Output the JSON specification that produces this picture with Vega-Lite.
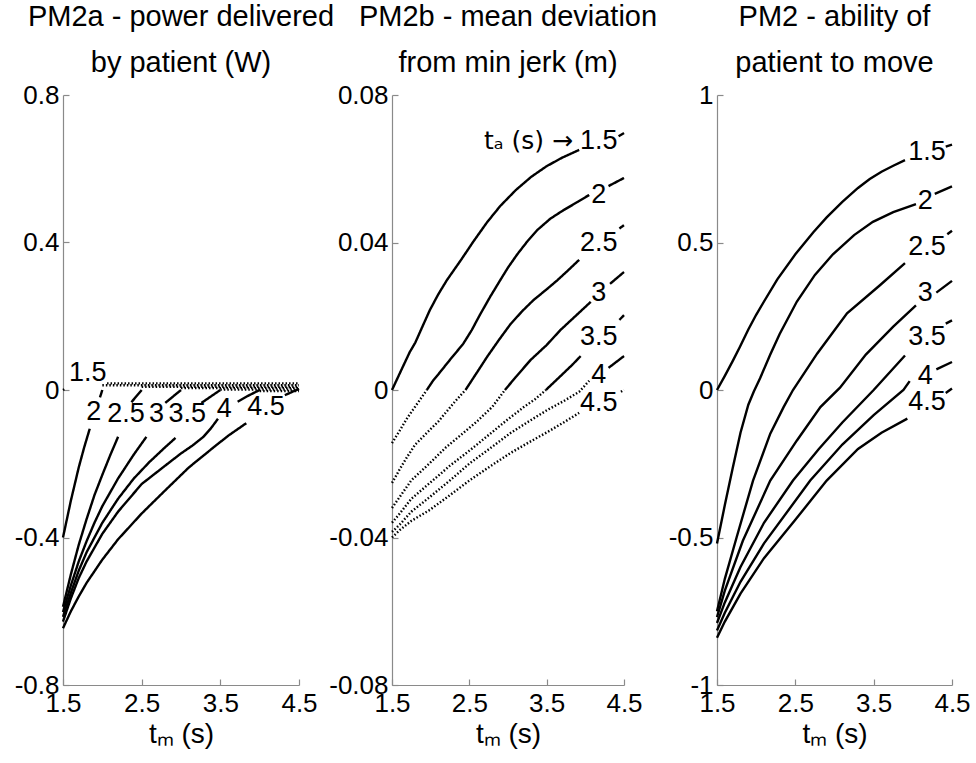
{
  "$schema": "https://vega.github.io/schema/vega-lite/v6.json",
  "background": "white",
  "padding": {"left": 14, "top": 3, "right": 5, "bottom": 5},
  "bounds": "flush",
  "spacing": 93,
  "resolve": {"scale": {"strokeDash": "independent", "x": "independent", "y": "independent"}},
  "config": {
    "font": "Liberation Sans",
    "view": {"stroke": null},
    "axis": {
      "grid": false,
      "domainColor": "#8a8a8a",
      "domainWidth": 1.2,
      "tickColor": "#8a8a8a",
      "tickWidth": 1.2,
      "tickSize": -6,
      "labelFontSize": 26,
      "labelColor": "black",
      "labelFont": "Liberation Sans",
      "labelFlush": false,
      "labelOverlap": false,
      "titleFontSize": 28,
      "titleFontWeight": "normal",
      "titleColor": "black",
      "titleFont": "Liberation Sans"
    },
    "axisX": {"labelPadding": 11},
    "axisY": {"labelPadding": 10},
    "title": {
      "font": "Liberation Sans",
      "fontSize": 29,
      "fontWeight": "normal",
      "color": "black",
      "anchor": "middle",
      "lineHeight": 46,
      "offset": 0
    },
    "text": {"font": "Liberation Sans"}
  },
  "datasets": {
    "pm2a": [
      {"ta": "1.5", "seg": "1.5-a", "phase": "tm > ta", "tm": 1.5, "v": 0.0},
      {"ta": "1.5", "seg": "1.5-a", "phase": "tm > ta", "tm": 1.53, "v": 0.004},
      {"ta": "1.5", "seg": "1.5-b", "phase": "tm > ta", "tm": 2.06, "v": 0.018},
      {"ta": "1.5", "seg": "1.5-b", "phase": "tm > ta", "tm": 4.5, "v": 0.018},

      {"ta": "2", "seg": "2-a", "phase": "tm < ta", "tm": 1.5, "v": -0.40},
      {"ta": "2", "seg": "2-a", "phase": "tm < ta", "tm": 1.6, "v": -0.30},
      {"ta": "2", "seg": "2-a", "phase": "tm < ta", "tm": 1.7, "v": -0.21},
      {"ta": "2", "seg": "2-a", "phase": "tm < ta", "tm": 1.77, "v": -0.155},
      {"ta": "2", "seg": "2-a", "phase": "tm < ta", "tm": 1.84, "v": -0.105},
      {"ta": "2", "seg": "2-b", "phase": "tm < ta", "tm": 1.97, "v": -0.02},
      {"ta": "2", "seg": "2-b", "phase": "tm < ta", "tm": 2.0, "v": 0.0},
      {"ta": "2", "seg": "2-c", "phase": "tm > ta", "tm": 2.0, "v": 0.013},
      {"ta": "2", "seg": "2-c", "phase": "tm > ta", "tm": 4.5, "v": 0.013},

      {"ta": "2.5", "seg": "2.5-a", "phase": "tm < ta", "tm": 1.5, "v": -0.588},
      {"ta": "2.5", "seg": "2.5-a", "phase": "tm < ta", "tm": 1.6, "v": -0.50},
      {"ta": "2.5", "seg": "2.5-a", "phase": "tm < ta", "tm": 1.7, "v": -0.42},
      {"ta": "2.5", "seg": "2.5-a", "phase": "tm < ta", "tm": 1.8, "v": -0.35},
      {"ta": "2.5", "seg": "2.5-a", "phase": "tm < ta", "tm": 1.9, "v": -0.285},
      {"ta": "2.5", "seg": "2.5-a", "phase": "tm < ta", "tm": 2.0, "v": -0.23},
      {"ta": "2.5", "seg": "2.5-a", "phase": "tm < ta", "tm": 2.1, "v": -0.177},
      {"ta": "2.5", "seg": "2.5-a", "phase": "tm < ta", "tm": 2.2, "v": -0.127},
      {"ta": "2.5", "seg": "2.5-b", "phase": "tm < ta", "tm": 2.37, "v": -0.033},
      {"ta": "2.5", "seg": "2.5-b", "phase": "tm < ta", "tm": 2.5, "v": 0.0},
      {"ta": "2.5", "seg": "2.5-c", "phase": "tm > ta", "tm": 2.5, "v": 0.009},
      {"ta": "2.5", "seg": "2.5-c", "phase": "tm > ta", "tm": 4.5, "v": 0.009},

      {"ta": "3", "seg": "3-a", "phase": "tm < ta", "tm": 1.5, "v": -0.602},
      {"ta": "3", "seg": "3-a", "phase": "tm < ta", "tm": 1.6, "v": -0.53},
      {"ta": "3", "seg": "3-a", "phase": "tm < ta", "tm": 1.7, "v": -0.465},
      {"ta": "3", "seg": "3-a", "phase": "tm < ta", "tm": 1.8, "v": -0.41},
      {"ta": "3", "seg": "3-a", "phase": "tm < ta", "tm": 1.9, "v": -0.36},
      {"ta": "3", "seg": "3-a", "phase": "tm < ta", "tm": 2.0, "v": -0.315},
      {"ta": "3", "seg": "3-a", "phase": "tm < ta", "tm": 2.2, "v": -0.24},
      {"ta": "3", "seg": "3-a", "phase": "tm < ta", "tm": 2.4, "v": -0.175},
      {"ta": "3", "seg": "3-a", "phase": "tm < ta", "tm": 2.56, "v": -0.127},
      {"ta": "3", "seg": "3-b", "phase": "tm < ta", "tm": 2.8, "v": -0.035},
      {"ta": "3", "seg": "3-b", "phase": "tm < ta", "tm": 3.0, "v": 0.0},
      {"ta": "3", "seg": "3-c", "phase": "tm > ta", "tm": 3.0, "v": 0.005},
      {"ta": "3", "seg": "3-c", "phase": "tm > ta", "tm": 4.5, "v": 0.005},

      {"ta": "3.5", "seg": "3.5-a", "phase": "tm < ta", "tm": 1.5, "v": -0.615},
      {"ta": "3.5", "seg": "3.5-a", "phase": "tm < ta", "tm": 1.6, "v": -0.55},
      {"ta": "3.5", "seg": "3.5-a", "phase": "tm < ta", "tm": 1.7, "v": -0.49},
      {"ta": "3.5", "seg": "3.5-a", "phase": "tm < ta", "tm": 1.8, "v": -0.44},
      {"ta": "3.5", "seg": "3.5-a", "phase": "tm < ta", "tm": 2.0, "v": -0.36},
      {"ta": "3.5", "seg": "3.5-a", "phase": "tm < ta", "tm": 2.2, "v": -0.295},
      {"ta": "3.5", "seg": "3.5-a", "phase": "tm < ta", "tm": 2.4, "v": -0.24},
      {"ta": "3.5", "seg": "3.5-a", "phase": "tm < ta", "tm": 2.6, "v": -0.195},
      {"ta": "3.5", "seg": "3.5-a", "phase": "tm < ta", "tm": 2.8, "v": -0.155},
      {"ta": "3.5", "seg": "3.5-a", "phase": "tm < ta", "tm": 2.93, "v": -0.13},
      {"ta": "3.5", "seg": "3.5-b", "phase": "tm < ta", "tm": 3.26, "v": -0.035},
      {"ta": "3.5", "seg": "3.5-b", "phase": "tm < ta", "tm": 3.5, "v": 0.0},
      {"ta": "3.5", "seg": "3.5-c", "phase": "tm > ta", "tm": 3.5, "v": 0.001},
      {"ta": "3.5", "seg": "3.5-c", "phase": "tm > ta", "tm": 4.5, "v": 0.001},

      {"ta": "4", "seg": "4-a", "phase": "tm < ta", "tm": 1.5, "v": -0.628},
      {"ta": "4", "seg": "4-a", "phase": "tm < ta", "tm": 1.6, "v": -0.565},
      {"ta": "4", "seg": "4-a", "phase": "tm < ta", "tm": 1.7, "v": -0.51},
      {"ta": "4", "seg": "4-a", "phase": "tm < ta", "tm": 1.8, "v": -0.465},
      {"ta": "4", "seg": "4-a", "phase": "tm < ta", "tm": 2.0, "v": -0.39},
      {"ta": "4", "seg": "4-a", "phase": "tm < ta", "tm": 2.2, "v": -0.33},
      {"ta": "4", "seg": "4-a", "phase": "tm < ta", "tm": 2.5, "v": -0.255},
      {"ta": "4", "seg": "4-a", "phase": "tm < ta", "tm": 2.8, "v": -0.205},
      {"ta": "4", "seg": "4-a", "phase": "tm < ta", "tm": 3.0, "v": -0.172},
      {"ta": "4", "seg": "4-a", "phase": "tm < ta", "tm": 3.15, "v": -0.15},
      {"ta": "4", "seg": "4-a", "phase": "tm < ta", "tm": 3.28, "v": -0.128},
      {"ta": "4", "seg": "4-a", "phase": "tm < ta", "tm": 3.38, "v": -0.104},
      {"ta": "4", "seg": "4-a", "phase": "tm < ta", "tm": 3.47, "v": -0.078},
      {"ta": "4", "seg": "4-b", "phase": "tm < ta", "tm": 3.72, "v": -0.032},
      {"ta": "4", "seg": "4-b", "phase": "tm < ta", "tm": 3.85, "v": -0.016},
      {"ta": "4", "seg": "4-b", "phase": "tm < ta", "tm": 4.0, "v": 0.0},
      {"ta": "4", "seg": "4-c", "phase": "tm > ta", "tm": 4.0, "v": -0.003},
      {"ta": "4", "seg": "4-c", "phase": "tm > ta", "tm": 4.5, "v": -0.003},

      {"ta": "4.5", "seg": "4.5-a", "phase": "tm < ta", "tm": 1.5, "v": -0.646},
      {"ta": "4.5", "seg": "4.5-a", "phase": "tm < ta", "tm": 1.6, "v": -0.6},
      {"ta": "4.5", "seg": "4.5-a", "phase": "tm < ta", "tm": 1.7, "v": -0.56},
      {"ta": "4.5", "seg": "4.5-a", "phase": "tm < ta", "tm": 1.8, "v": -0.523},
      {"ta": "4.5", "seg": "4.5-a", "phase": "tm < ta", "tm": 2.0, "v": -0.46},
      {"ta": "4.5", "seg": "4.5-a", "phase": "tm < ta", "tm": 2.2, "v": -0.405},
      {"ta": "4.5", "seg": "4.5-a", "phase": "tm < ta", "tm": 2.5, "v": -0.335},
      {"ta": "4.5", "seg": "4.5-a", "phase": "tm < ta", "tm": 2.8, "v": -0.272},
      {"ta": "4.5", "seg": "4.5-a", "phase": "tm < ta", "tm": 3.1, "v": -0.21},
      {"ta": "4.5", "seg": "4.5-a", "phase": "tm < ta", "tm": 3.4, "v": -0.158},
      {"ta": "4.5", "seg": "4.5-a", "phase": "tm < ta", "tm": 3.6, "v": -0.124},
      {"ta": "4.5", "seg": "4.5-a", "phase": "tm < ta", "tm": 3.83, "v": -0.09},
      {"ta": "4.5", "seg": "4.5-b", "phase": "tm < ta", "tm": 4.32, "v": -0.014},
      {"ta": "4.5", "seg": "4.5-b", "phase": "tm < ta", "tm": 4.5, "v": 0.003}
    ],
    "pm2b": [
      {"ta": "1.5", "seg": "1.5-a", "phase": "tm > ta", "tm": 1.5, "v": 0.0},
      {"ta": "1.5", "seg": "1.5-a", "phase": "tm > ta", "tm": 1.6, "v": 0.0045},
      {"ta": "1.5", "seg": "1.5-a", "phase": "tm > ta", "tm": 1.73, "v": 0.0103},
      {"ta": "1.5", "seg": "1.5-a", "phase": "tm > ta", "tm": 1.8, "v": 0.0128},
      {"ta": "1.5", "seg": "1.5-a", "phase": "tm > ta", "tm": 1.9, "v": 0.0175},
      {"ta": "1.5", "seg": "1.5-a", "phase": "tm > ta", "tm": 1.99, "v": 0.0217},
      {"ta": "1.5", "seg": "1.5-a", "phase": "tm > ta", "tm": 2.1, "v": 0.026},
      {"ta": "1.5", "seg": "1.5-a", "phase": "tm > ta", "tm": 2.21, "v": 0.0298},
      {"ta": "1.5", "seg": "1.5-a", "phase": "tm > ta", "tm": 2.4, "v": 0.0355},
      {"ta": "1.5", "seg": "1.5-a", "phase": "tm > ta", "tm": 2.55, "v": 0.0402},
      {"ta": "1.5", "seg": "1.5-a", "phase": "tm > ta", "tm": 2.73, "v": 0.0455},
      {"ta": "1.5", "seg": "1.5-a", "phase": "tm > ta", "tm": 2.9, "v": 0.0499},
      {"ta": "1.5", "seg": "1.5-a", "phase": "tm > ta", "tm": 3.1, "v": 0.0542},
      {"ta": "1.5", "seg": "1.5-a", "phase": "tm > ta", "tm": 3.3, "v": 0.0578},
      {"ta": "1.5", "seg": "1.5-a", "phase": "tm > ta", "tm": 3.5, "v": 0.0607},
      {"ta": "1.5", "seg": "1.5-a", "phase": "tm > ta", "tm": 3.7, "v": 0.063},
      {"ta": "1.5", "seg": "1.5-a", "phase": "tm > ta", "tm": 3.92, "v": 0.0651},
      {"ta": "1.5", "seg": "1.5-b", "phase": "tm > ta", "tm": 4.43, "v": 0.0688},
      {"ta": "1.5", "seg": "1.5-b", "phase": "tm > ta", "tm": 4.5, "v": 0.0697},

      {"ta": "2", "seg": "2-d", "phase": "tm < ta", "tm": 1.5, "v": -0.0144},
      {"ta": "2", "seg": "2-d", "phase": "tm < ta", "tm": 1.6, "v": -0.011},
      {"ta": "2", "seg": "2-d", "phase": "tm < ta", "tm": 1.7, "v": -0.0075},
      {"ta": "2", "seg": "2-d", "phase": "tm < ta", "tm": 1.77, "v": -0.0054},
      {"ta": "2", "seg": "2-d", "phase": "tm < ta", "tm": 1.85, "v": -0.003},
      {"ta": "2", "seg": "2-d", "phase": "tm < ta", "tm": 1.95, "v": 0.0},
      {"ta": "2", "seg": "2-a", "phase": "tm > ta", "tm": 1.95, "v": 0.0},
      {"ta": "2", "seg": "2-a", "phase": "tm > ta", "tm": 2.03, "v": 0.0025},
      {"ta": "2", "seg": "2-a", "phase": "tm > ta", "tm": 2.12, "v": 0.0048},
      {"ta": "2", "seg": "2-a", "phase": "tm > ta", "tm": 2.25, "v": 0.0082},
      {"ta": "2", "seg": "2-a", "phase": "tm > ta", "tm": 2.42, "v": 0.0125},
      {"ta": "2", "seg": "2-a", "phase": "tm > ta", "tm": 2.53, "v": 0.0162},
      {"ta": "2", "seg": "2-a", "phase": "tm > ta", "tm": 2.64, "v": 0.0205},
      {"ta": "2", "seg": "2-a", "phase": "tm > ta", "tm": 2.77, "v": 0.0253},
      {"ta": "2", "seg": "2-a", "phase": "tm > ta", "tm": 2.9, "v": 0.0298},
      {"ta": "2", "seg": "2-a", "phase": "tm > ta", "tm": 3.0, "v": 0.0332},
      {"ta": "2", "seg": "2-a", "phase": "tm > ta", "tm": 3.12, "v": 0.0368},
      {"ta": "2", "seg": "2-a", "phase": "tm > ta", "tm": 3.25, "v": 0.0403},
      {"ta": "2", "seg": "2-a", "phase": "tm > ta", "tm": 3.38, "v": 0.0434},
      {"ta": "2", "seg": "2-a", "phase": "tm > ta", "tm": 3.55, "v": 0.0465},
      {"ta": "2", "seg": "2-a", "phase": "tm > ta", "tm": 3.72, "v": 0.0488},
      {"ta": "2", "seg": "2-a", "phase": "tm > ta", "tm": 3.9, "v": 0.051},
      {"ta": "2", "seg": "2-a", "phase": "tm > ta", "tm": 4.05, "v": 0.0529},
      {"ta": "2", "seg": "2-b", "phase": "tm > ta", "tm": 4.3, "v": 0.0553},
      {"ta": "2", "seg": "2-b", "phase": "tm > ta", "tm": 4.5, "v": 0.0575},

      {"ta": "2.5", "seg": "2.5-d", "phase": "tm < ta", "tm": 1.5, "v": -0.0252},
      {"ta": "2.5", "seg": "2.5-d", "phase": "tm < ta", "tm": 1.6, "v": -0.0215},
      {"ta": "2.5", "seg": "2.5-d", "phase": "tm < ta", "tm": 1.7, "v": -0.018},
      {"ta": "2.5", "seg": "2.5-d", "phase": "tm < ta", "tm": 1.8, "v": -0.0148},
      {"ta": "2.5", "seg": "2.5-d", "phase": "tm < ta", "tm": 1.99, "v": -0.0108},
      {"ta": "2.5", "seg": "2.5-d", "phase": "tm < ta", "tm": 2.1, "v": -0.0085},
      {"ta": "2.5", "seg": "2.5-d", "phase": "tm < ta", "tm": 2.2, "v": -0.006},
      {"ta": "2.5", "seg": "2.5-d", "phase": "tm < ta", "tm": 2.32, "v": -0.003},
      {"ta": "2.5", "seg": "2.5-d", "phase": "tm < ta", "tm": 2.45, "v": 0.0},
      {"ta": "2.5", "seg": "2.5-a", "phase": "tm > ta", "tm": 2.45, "v": 0.0},
      {"ta": "2.5", "seg": "2.5-a", "phase": "tm > ta", "tm": 2.6, "v": 0.0048},
      {"ta": "2.5", "seg": "2.5-a", "phase": "tm > ta", "tm": 2.73, "v": 0.009},
      {"ta": "2.5", "seg": "2.5-a", "phase": "tm > ta", "tm": 2.88, "v": 0.0135},
      {"ta": "2.5", "seg": "2.5-a", "phase": "tm > ta", "tm": 3.03, "v": 0.0178},
      {"ta": "2.5", "seg": "2.5-a", "phase": "tm > ta", "tm": 3.18, "v": 0.0213},
      {"ta": "2.5", "seg": "2.5-a", "phase": "tm > ta", "tm": 3.33, "v": 0.0244},
      {"ta": "2.5", "seg": "2.5-a", "phase": "tm > ta", "tm": 3.5, "v": 0.0273},
      {"ta": "2.5", "seg": "2.5-a", "phase": "tm > ta", "tm": 3.64, "v": 0.0298},
      {"ta": "2.5", "seg": "2.5-a", "phase": "tm > ta", "tm": 3.78, "v": 0.0325},
      {"ta": "2.5", "seg": "2.5-a", "phase": "tm > ta", "tm": 3.92, "v": 0.0353},
      {"ta": "2.5", "seg": "2.5-b", "phase": "tm > ta", "tm": 4.44, "v": 0.0438},
      {"ta": "2.5", "seg": "2.5-b", "phase": "tm > ta", "tm": 4.5, "v": 0.0447},

      {"ta": "3", "seg": "3-d", "phase": "tm < ta", "tm": 1.5, "v": -0.032},
      {"ta": "3", "seg": "3-d", "phase": "tm < ta", "tm": 1.6, "v": -0.029},
      {"ta": "3", "seg": "3-d", "phase": "tm < ta", "tm": 1.75, "v": -0.0245},
      {"ta": "3", "seg": "3-d", "phase": "tm < ta", "tm": 1.99, "v": -0.0198},
      {"ta": "3", "seg": "3-d", "phase": "tm < ta", "tm": 2.2, "v": -0.0155},
      {"ta": "3", "seg": "3-d", "phase": "tm < ta", "tm": 2.42, "v": -0.0117},
      {"ta": "3", "seg": "3-d", "phase": "tm < ta", "tm": 2.6, "v": -0.0085},
      {"ta": "3", "seg": "3-d", "phase": "tm < ta", "tm": 2.8, "v": -0.0045},
      {"ta": "3", "seg": "3-d", "phase": "tm < ta", "tm": 2.96, "v": 0.0},
      {"ta": "3", "seg": "3-a", "phase": "tm > ta", "tm": 2.96, "v": 0.0},
      {"ta": "3", "seg": "3-a", "phase": "tm > ta", "tm": 3.1, "v": 0.0035},
      {"ta": "3", "seg": "3-a", "phase": "tm > ta", "tm": 3.29, "v": 0.0081},
      {"ta": "3", "seg": "3-a", "phase": "tm > ta", "tm": 3.5, "v": 0.0122},
      {"ta": "3", "seg": "3-a", "phase": "tm > ta", "tm": 3.68, "v": 0.0163},
      {"ta": "3", "seg": "3-a", "phase": "tm > ta", "tm": 3.88, "v": 0.0202},
      {"ta": "3", "seg": "3-a", "phase": "tm > ta", "tm": 4.07, "v": 0.0239},
      {"ta": "3", "seg": "3-b", "phase": "tm > ta", "tm": 4.32, "v": 0.0288},
      {"ta": "3", "seg": "3-b", "phase": "tm > ta", "tm": 4.5, "v": 0.032},

      {"ta": "3.5", "seg": "3.5-d", "phase": "tm < ta", "tm": 1.5, "v": -0.036},
      {"ta": "3.5", "seg": "3.5-d", "phase": "tm < ta", "tm": 1.6, "v": -0.0335},
      {"ta": "3.5", "seg": "3.5-d", "phase": "tm < ta", "tm": 1.75, "v": -0.0295},
      {"ta": "3.5", "seg": "3.5-d", "phase": "tm < ta", "tm": 1.99, "v": -0.0252},
      {"ta": "3.5", "seg": "3.5-d", "phase": "tm < ta", "tm": 2.25, "v": -0.0205},
      {"ta": "3.5", "seg": "3.5-d", "phase": "tm < ta", "tm": 2.51, "v": -0.0163},
      {"ta": "3.5", "seg": "3.5-d", "phase": "tm < ta", "tm": 2.75, "v": -0.0122},
      {"ta": "3.5", "seg": "3.5-d", "phase": "tm < ta", "tm": 2.99, "v": -0.0081},
      {"ta": "3.5", "seg": "3.5-d", "phase": "tm < ta", "tm": 3.2, "v": -0.0047},
      {"ta": "3.5", "seg": "3.5-d", "phase": "tm < ta", "tm": 3.35, "v": -0.0025},
      {"ta": "3.5", "seg": "3.5-d", "phase": "tm < ta", "tm": 3.49, "v": 0.0},
      {"ta": "3.5", "seg": "3.5-a", "phase": "tm > ta", "tm": 3.49, "v": 0.0},
      {"ta": "3.5", "seg": "3.5-a", "phase": "tm > ta", "tm": 3.6, "v": 0.0022},
      {"ta": "3.5", "seg": "3.5-a", "phase": "tm > ta", "tm": 3.72, "v": 0.0046},
      {"ta": "3.5", "seg": "3.5-a", "phase": "tm > ta", "tm": 3.83, "v": 0.0068},
      {"ta": "3.5", "seg": "3.5-a", "phase": "tm > ta", "tm": 3.94, "v": 0.0092},
      {"ta": "3.5", "seg": "3.5-b", "phase": "tm > ta", "tm": 4.44, "v": 0.019},
      {"ta": "3.5", "seg": "3.5-b", "phase": "tm > ta", "tm": 4.5, "v": 0.0203},

      {"ta": "4", "seg": "4-d", "phase": "tm < ta", "tm": 1.5, "v": -0.0385},
      {"ta": "4", "seg": "4-d", "phase": "tm < ta", "tm": 1.6, "v": -0.0365},
      {"ta": "4", "seg": "4-d", "phase": "tm < ta", "tm": 1.75, "v": -0.033},
      {"ta": "4", "seg": "4-d", "phase": "tm < ta", "tm": 1.99, "v": -0.029},
      {"ta": "4", "seg": "4-d", "phase": "tm < ta", "tm": 2.25, "v": -0.0245},
      {"ta": "4", "seg": "4-d", "phase": "tm < ta", "tm": 2.51, "v": -0.0198},
      {"ta": "4", "seg": "4-d", "phase": "tm < ta", "tm": 2.77, "v": -0.0158},
      {"ta": "4", "seg": "4-d", "phase": "tm < ta", "tm": 3.03, "v": -0.0117},
      {"ta": "4", "seg": "4-d", "phase": "tm < ta", "tm": 3.27, "v": -0.0085},
      {"ta": "4", "seg": "4-d", "phase": "tm < ta", "tm": 3.51, "v": -0.0054},
      {"ta": "4", "seg": "4-d", "phase": "tm < ta", "tm": 3.72, "v": -0.003},
      {"ta": "4", "seg": "4-d", "phase": "tm < ta", "tm": 3.92, "v": -0.0005},
      {"ta": "4", "seg": "4-d", "phase": "tm < ta", "tm": 4.05, "v": 0.0025},
      {"ta": "4", "seg": "4-b", "phase": "tm > ta", "tm": 4.3, "v": 0.006},
      {"ta": "4", "seg": "4-b", "phase": "tm > ta", "tm": 4.5, "v": 0.0092},

      {"ta": "4.5", "seg": "4.5-d", "phase": "tm < ta", "tm": 1.5, "v": -0.040},
      {"ta": "4.5", "seg": "4.5-d", "phase": "tm < ta", "tm": 1.6, "v": -0.038},
      {"ta": "4.5", "seg": "4.5-d", "phase": "tm < ta", "tm": 1.75, "v": -0.0355},
      {"ta": "4.5", "seg": "4.5-d", "phase": "tm < ta", "tm": 1.99, "v": -0.0325},
      {"ta": "4.5", "seg": "4.5-d", "phase": "tm < ta", "tm": 2.25, "v": -0.0285},
      {"ta": "4.5", "seg": "4.5-d", "phase": "tm < ta", "tm": 2.51, "v": -0.0244},
      {"ta": "4.5", "seg": "4.5-d", "phase": "tm < ta", "tm": 2.77, "v": -0.0207},
      {"ta": "4.5", "seg": "4.5-d", "phase": "tm < ta", "tm": 3.03, "v": -0.0171},
      {"ta": "4.5", "seg": "4.5-d", "phase": "tm < ta", "tm": 3.27, "v": -0.0142},
      {"ta": "4.5", "seg": "4.5-d", "phase": "tm < ta", "tm": 3.51, "v": -0.0114},
      {"ta": "4.5", "seg": "4.5-d", "phase": "tm < ta", "tm": 3.72, "v": -0.0088},
      {"ta": "4.5", "seg": "4.5-d", "phase": "tm < ta", "tm": 3.92, "v": -0.0062},
      {"ta": "4.5", "seg": "4.5-e", "phase": "tm < ta", "tm": 4.46, "v": -0.0005},
      {"ta": "4.5", "seg": "4.5-e", "phase": "tm < ta", "tm": 4.5, "v": 0.0}
    ],
    "pm2": [
      {"ta": "1.5", "seg": "1.5-a", "tm": 1.5, "v": 0.0},
      {"ta": "1.5", "seg": "1.5-a", "tm": 1.6, "v": 0.048},
      {"ta": "1.5", "seg": "1.5-a", "tm": 1.7, "v": 0.098},
      {"ta": "1.5", "seg": "1.5-a", "tm": 1.79, "v": 0.145},
      {"ta": "1.5", "seg": "1.5-a", "tm": 1.9, "v": 0.205},
      {"ta": "1.5", "seg": "1.5-a", "tm": 2.0, "v": 0.255},
      {"ta": "1.5", "seg": "1.5-a", "tm": 2.1, "v": 0.3},
      {"ta": "1.5", "seg": "1.5-a", "tm": 2.27, "v": 0.375},
      {"ta": "1.5", "seg": "1.5-a", "tm": 2.5, "v": 0.46},
      {"ta": "1.5", "seg": "1.5-a", "tm": 2.73, "v": 0.535},
      {"ta": "1.5", "seg": "1.5-a", "tm": 2.9, "v": 0.585},
      {"ta": "1.5", "seg": "1.5-a", "tm": 3.1, "v": 0.638},
      {"ta": "1.5", "seg": "1.5-a", "tm": 3.3, "v": 0.685},
      {"ta": "1.5", "seg": "1.5-a", "tm": 3.45, "v": 0.715},
      {"ta": "1.5", "seg": "1.5-a", "tm": 3.6, "v": 0.74},
      {"ta": "1.5", "seg": "1.5-a", "tm": 3.75, "v": 0.76},
      {"ta": "1.5", "seg": "1.5-a", "tm": 3.9, "v": 0.779},
      {"ta": "1.5", "seg": "1.5-b", "tm": 4.42, "v": 0.825},
      {"ta": "1.5", "seg": "1.5-b", "tm": 4.5, "v": 0.832},

      {"ta": "2", "seg": "2-a", "tm": 1.5, "v": -0.52},
      {"ta": "2", "seg": "2-a", "tm": 1.6, "v": -0.39},
      {"ta": "2", "seg": "2-a", "tm": 1.7, "v": -0.265},
      {"ta": "2", "seg": "2-a", "tm": 1.8, "v": -0.145},
      {"ta": "2", "seg": "2-a", "tm": 1.9, "v": -0.05},
      {"ta": "2", "seg": "2-a", "tm": 1.97, "v": -0.005},
      {"ta": "2", "seg": "2-a", "tm": 2.05, "v": 0.04},
      {"ta": "2", "seg": "2-a", "tm": 2.18, "v": 0.12},
      {"ta": "2", "seg": "2-a", "tm": 2.3, "v": 0.19},
      {"ta": "2", "seg": "2-a", "tm": 2.52, "v": 0.3},
      {"ta": "2", "seg": "2-a", "tm": 2.75, "v": 0.39},
      {"ta": "2", "seg": "2-a", "tm": 2.98, "v": 0.46},
      {"ta": "2", "seg": "2-a", "tm": 3.25, "v": 0.525},
      {"ta": "2", "seg": "2-a", "tm": 3.49, "v": 0.57},
      {"ta": "2", "seg": "2-a", "tm": 3.75, "v": 0.603},
      {"ta": "2", "seg": "2-a", "tm": 4.04, "v": 0.63},
      {"ta": "2", "seg": "2-b", "tm": 4.28, "v": 0.665},
      {"ta": "2", "seg": "2-b", "tm": 4.5, "v": 0.69},

      {"ta": "2.5", "seg": "2.5-a", "tm": 1.5, "v": -0.75},
      {"ta": "2.5", "seg": "2.5-a", "tm": 1.6, "v": -0.64},
      {"ta": "2.5", "seg": "2.5-a", "tm": 1.75, "v": -0.5},
      {"ta": "2.5", "seg": "2.5-a", "tm": 1.96, "v": -0.307},
      {"ta": "2.5", "seg": "2.5-a", "tm": 2.18, "v": -0.148},
      {"ta": "2.5", "seg": "2.5-a", "tm": 2.35, "v": -0.058},
      {"ta": "2.5", "seg": "2.5-a", "tm": 2.47, "v": 0.0},
      {"ta": "2.5", "seg": "2.5-a", "tm": 2.78, "v": 0.124},
      {"ta": "2.5", "seg": "2.5-a", "tm": 3.16, "v": 0.26},
      {"ta": "2.5", "seg": "2.5-a", "tm": 3.58, "v": 0.355},
      {"ta": "2.5", "seg": "2.5-a", "tm": 3.9, "v": 0.43},
      {"ta": "2.5", "seg": "2.5-b", "tm": 4.44, "v": 0.528},
      {"ta": "2.5", "seg": "2.5-b", "tm": 4.5, "v": 0.54},

      {"ta": "3", "seg": "3-a", "tm": 1.5, "v": -0.77},
      {"ta": "3", "seg": "3-a", "tm": 1.6, "v": -0.68},
      {"ta": "3", "seg": "3-a", "tm": 1.83, "v": -0.511},
      {"ta": "3", "seg": "3-a", "tm": 2.18, "v": -0.307},
      {"ta": "3", "seg": "3-a", "tm": 2.52, "v": -0.171},
      {"ta": "3", "seg": "3-a", "tm": 2.82, "v": -0.058},
      {"ta": "3", "seg": "3-a", "tm": 3.07, "v": 0.008},
      {"ta": "3", "seg": "3-a", "tm": 3.4, "v": 0.12},
      {"ta": "3", "seg": "3-a", "tm": 3.75, "v": 0.215},
      {"ta": "3", "seg": "3-a", "tm": 4.04, "v": 0.287},
      {"ta": "3", "seg": "3-b", "tm": 4.3, "v": 0.33},
      {"ta": "3", "seg": "3-b", "tm": 4.5, "v": 0.37},

      {"ta": "3.5", "seg": "3.5-a", "tm": 1.5, "v": -0.79},
      {"ta": "3.5", "seg": "3.5-a", "tm": 1.6, "v": -0.72},
      {"ta": "3.5", "seg": "3.5-a", "tm": 1.8, "v": -0.6},
      {"ta": "3.5", "seg": "3.5-a", "tm": 2.1, "v": -0.45},
      {"ta": "3.5", "seg": "3.5-a", "tm": 2.47, "v": -0.307},
      {"ta": "3.5", "seg": "3.5-a", "tm": 2.8, "v": -0.2},
      {"ta": "3.5", "seg": "3.5-a", "tm": 3.1, "v": -0.11},
      {"ta": "3.5", "seg": "3.5-a", "tm": 3.5, "v": 0.0},
      {"ta": "3.5", "seg": "3.5-a", "tm": 3.9, "v": 0.117},
      {"ta": "3.5", "seg": "3.5-b", "tm": 4.42, "v": 0.225},
      {"ta": "3.5", "seg": "3.5-b", "tm": 4.5, "v": 0.236},

      {"ta": "4", "seg": "4-a", "tm": 1.5, "v": -0.815},
      {"ta": "4", "seg": "4-a", "tm": 1.6, "v": -0.755},
      {"ta": "4", "seg": "4-a", "tm": 1.8, "v": -0.65},
      {"ta": "4", "seg": "4-a", "tm": 2.1, "v": -0.52},
      {"ta": "4", "seg": "4-a", "tm": 2.69, "v": -0.307},
      {"ta": "4", "seg": "4-a", "tm": 3.1, "v": -0.185},
      {"ta": "4", "seg": "4-a", "tm": 3.5, "v": -0.085},
      {"ta": "4", "seg": "4-a", "tm": 3.88, "v": 0.0},
      {"ta": "4", "seg": "4-a", "tm": 3.96, "v": 0.03},
      {"ta": "4", "seg": "4-b", "tm": 4.3, "v": 0.07},
      {"ta": "4", "seg": "4-b", "tm": 4.5, "v": 0.095},

      {"ta": "4.5", "seg": "4.5-a", "tm": 1.5, "v": -0.84},
      {"ta": "4.5", "seg": "4.5-a", "tm": 1.6, "v": -0.785},
      {"ta": "4.5", "seg": "4.5-a", "tm": 1.8, "v": -0.69},
      {"ta": "4.5", "seg": "4.5-a", "tm": 2.1, "v": -0.57},
      {"ta": "4.5", "seg": "4.5-a", "tm": 2.5, "v": -0.44},
      {"ta": "4.5", "seg": "4.5-a", "tm": 2.9, "v": -0.307},
      {"ta": "4.5", "seg": "4.5-a", "tm": 3.3, "v": -0.2},
      {"ta": "4.5", "seg": "4.5-a", "tm": 3.6, "v": -0.145},
      {"ta": "4.5", "seg": "4.5-a", "tm": 3.93, "v": -0.097},
      {"ta": "4.5", "seg": "4.5-b", "tm": 4.42, "v": -0.01},
      {"ta": "4.5", "seg": "4.5-b", "tm": 4.5, "v": 0.005}
    ],
    "labels": [
      {"panel": "PM2a", "label": "1.5", "tm": 1.816, "v": 0.046},
      {"panel": "PM2a", "label": "2", "tm": 1.89, "v": -0.06},
      {"panel": "PM2a", "label": "2.5", "tm": 2.3, "v": -0.065},
      {"panel": "PM2a", "label": "3", "tm": 2.69, "v": -0.065},
      {"panel": "PM2a", "label": "3.5", "tm": 3.08, "v": -0.065},
      {"panel": "PM2a", "label": "4", "tm": 3.55, "v": -0.052},
      {"panel": "PM2a", "label": "4.5", "tm": 4.08, "v": -0.046},
      {"panel": "PM2b", "label": "1.5", "tm": 4.175, "v": 0.0675},
      {"panel": "PM2b", "label": "2", "tm": 4.175, "v": 0.0529},
      {"panel": "PM2b", "label": "2.5", "tm": 4.175, "v": 0.0399},
      {"panel": "PM2b", "label": "3", "tm": 4.175, "v": 0.0263},
      {"panel": "PM2b", "label": "3.5", "tm": 4.175, "v": 0.0144},
      {"panel": "PM2b", "label": "4", "tm": 4.175, "v": 0.0041},
      {"panel": "PM2b", "label": "4.5", "tm": 4.175, "v": -0.0035},
      {"panel": "PM2", "label": "1.5", "tm": 4.18, "v": 0.806},
      {"panel": "PM2", "label": "2", "tm": 4.16, "v": 0.64},
      {"panel": "PM2", "label": "2.5", "tm": 4.18, "v": 0.484},
      {"panel": "PM2", "label": "3", "tm": 4.16, "v": 0.328},
      {"panel": "PM2", "label": "3.5", "tm": 4.18, "v": 0.178},
      {"panel": "PM2", "label": "4", "tm": 4.16, "v": 0.049},
      {"panel": "PM2", "label": "4.5", "tm": 4.18, "v": -0.042}
    ],
    "note": [
      {"label": "tₐ (s) →", "tm": 3.84, "v": 0.0675}
    ]
  },
  "hconcat": [
    {
      "width": 236,
      "height": 590,
      "title": {"text": ["PM2a - power delivered", "by patient (W)"]},
      "encoding": {
        "x": {"field": "tm", "type": "quantitative", "scale": {"domain": [1.5, 4.5], "nice": false, "zero": false},
              "axis": {"values": [1.5, 2.5, 3.5, 4.5], "labelExpr": "'' + datum.value", "title": "tₘ (s)"}},
        "y": {"field": "v", "type": "quantitative", "scale": {"domain": [-0.8, 0.8], "nice": false, "zero": false},
              "axis": {"values": [-0.8, -0.4, 0, 0.4, 0.8], "labelExpr": "'' + datum.value", "title": null}}
      },
      "layer": [
        {
          "data": {"name": "pm2a"},
          "mark": {"type": "line", "color": "black", "strokeWidth": 2.4},
          "encoding": {
            "detail": {"field": "seg"},
            "strokeDash": {"field": "phase", "type": "nominal",
                           "scale": {"domain": ["tm < ta", "tm > ta"], "range": [[1, 0], [1.5, 2]]}, "legend": null}
          }
        },
        {
          "data": {"name": "labels"},
          "transform": [{"filter": "datum.panel == 'PM2a'"}],
          "mark": {"type": "text", "fontSize": 27, "color": "black"},
          "encoding": {"text": {"field": "label"}}
        }
      ]
    },
    {
      "width": 232,
      "height": 590,
      "title": {"text": ["PM2b - mean deviation", "from min jerk (m)"]},
      "encoding": {
        "x": {"field": "tm", "type": "quantitative", "scale": {"domain": [1.5, 4.5], "nice": false, "zero": false},
              "axis": {"values": [1.5, 2.5, 3.5, 4.5], "labelExpr": "'' + datum.value", "title": "tₘ (s)"}},
        "y": {"field": "v", "type": "quantitative", "scale": {"domain": [-0.08, 0.08], "nice": false, "zero": false},
              "axis": {"values": [-0.08, -0.04, 0, 0.04, 0.08], "labelExpr": "'' + datum.value", "title": null}}
      },
      "layer": [
        {
          "data": {"name": "pm2b"},
          "mark": {"type": "line", "color": "black", "strokeWidth": 2.4},
          "encoding": {
            "detail": {"field": "seg"},
            "strokeDash": {"field": "phase", "type": "nominal",
                           "scale": {"domain": ["tm < ta", "tm > ta"], "range": [[1.5, 2], [1, 0]]}, "legend": null}
          }
        },
        {
          "data": {"name": "labels"},
          "transform": [{"filter": "datum.panel == 'PM2b'"}],
          "mark": {"type": "text", "fontSize": 27, "color": "black"},
          "encoding": {"text": {"field": "label"}}
        },
        {
          "data": {"name": "note"},
          "mark": {"type": "text", "fontSize": 25, "font": "DejaVu Sans", "color": "black", "align": "right"},
          "encoding": {"text": {"field": "label"}}
        }
      ]
    },
    {
      "width": 235,
      "height": 590,
      "title": {"text": ["PM2 - ability of", "patient to move"]},
      "encoding": {
        "x": {"field": "tm", "type": "quantitative", "scale": {"domain": [1.5, 4.5], "nice": false, "zero": false},
              "axis": {"values": [1.5, 2.5, 3.5, 4.5], "labelExpr": "'' + datum.value", "title": "tₘ (s)"}},
        "y": {"field": "v", "type": "quantitative", "scale": {"domain": [-1, 1], "nice": false, "zero": false},
              "axis": {"values": [-1, -0.5, 0, 0.5, 1], "labelExpr": "'' + datum.value", "title": null}}
      },
      "layer": [
        {
          "data": {"name": "pm2"},
          "mark": {"type": "line", "color": "black", "strokeWidth": 2.4},
          "encoding": {"detail": {"field": "seg"}}
        },
        {
          "data": {"name": "labels"},
          "transform": [{"filter": "datum.panel == 'PM2'"}],
          "mark": {"type": "text", "fontSize": 27, "color": "black"},
          "encoding": {"text": {"field": "label"}}
        }
      ]
    }
  ]
}
